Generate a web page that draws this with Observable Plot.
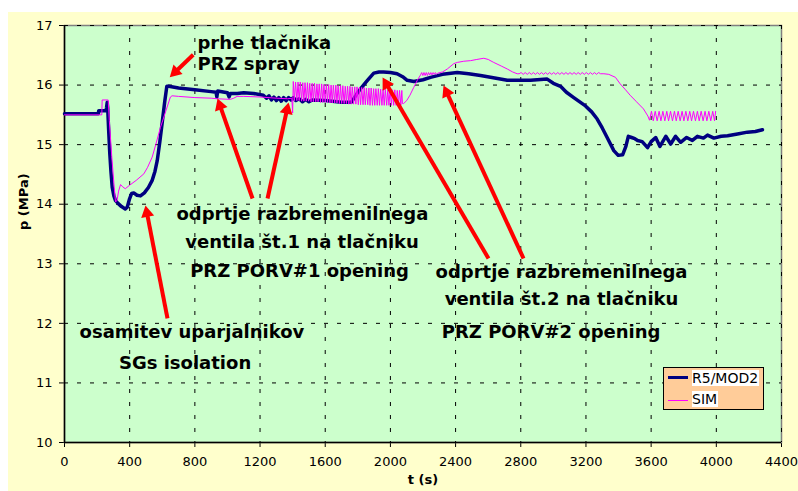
<!DOCTYPE html>
<html>
<head>
<meta charset="utf-8">
<script src="https://cdn.jsdelivr.net/npm/d3@7"></script>
<script src="https://cdn.jsdelivr.net/npm/@observablehq/plot@0.6"></script>
<style>
  body { margin: 0; background: #ffffff; }
  #wrap { position: relative; width: 798px; height: 491px; overflow: hidden; }
  #bg { position: absolute; left: 8px; top: 12px; right: 0; bottom: 0; background: #ffffcc; }
  #chart { position: absolute; left: 0; top: 0; }
  #legend { position: absolute; left: 663px; top: 367px; width: 99px; height: 41px;
            background: #ffcc99; border: 1px solid #000; font-family: "DejaVu Sans"; font-size: 14px; }
  .key { position: absolute; left: 4px; width: 20px; }
  .lab { position: absolute; left: 28px; background: #fff; line-height: 16px; padding-right: 1px; color: #000; }
</style>
</head>
<body>
<div id="wrap"><div id="bg"></div><div id="chart"></div><div id="legend"></div></div>
<script>
// ---- axes ----
const xTicks = [0, 400, 800, 1200, 1600, 2000, 2400, 2800, 3200, 3600, 4000, 4400];
const yTicks = [10, 11, 12, 13, 14, 15, 16, 17];
const xTitle = "t (s)";
const yTitle = "p (MPa)";

// ---- series ----
const seriesNames = ["R5/MOD2", "SIM"];
const seriesColors = ["#000080", "#ff00ff"];

const r5T = [0,208,210,255,258,262,265,270,278,285,293,303,313,330,350,373,385,398,412,425,445,466,490,515,538,555,569,585,600,615,628,640,700,800,900,930,935,940,1000,1010,1018,1060,1100,1160,1220,1240,1255,1270,1285,1300,1315,1330,1345,1360,1375,1390,1405,1420,1440,1460,1480,1500,1520,1600,1700,1760,1796,1820,1850,1875,1898,1930,1958,2000,2041,2075,2103,2144,2200,2246,2320,2410,2480,2553,2640,2717,2860,2962,3000,3044,3080,3125,3197,3235,3269,3300,3330,3371,3398,3425,3445,3460,3480,3500,3517,3545,3578,3600,3628,3654,3690,3720,3750,3781,3818,3853,3884,3921,3946,3985,4030,4069,4130,4191,4240,4283];
const r5P = [15.52,15.52,15.57,15.57,15.62,15.71,15.62,15.30,14.85,14.55,14.28,14.14,14.06,14.01,13.96,13.92,13.95,14.08,14.18,14.19,14.15,14.14,14.19,14.28,14.40,14.55,14.73,15.05,15.38,15.72,15.98,15.98,15.95,15.92,15.89,15.88,15.80,15.90,15.87,15.80,15.86,15.86,15.87,15.86,15.83,15.78,15.82,15.75,15.80,15.74,15.79,15.73,15.79,15.74,15.79,15.75,15.79,15.74,15.77,15.72,15.76,15.72,15.75,15.74,15.71,15.71,15.86,15.95,16.05,16.13,16.20,16.22,16.22,16.21,16.19,16.14,16.08,16.06,16.09,16.13,16.18,16.21,16.19,16.16,16.12,16.08,16.08,16.10,16.03,15.98,15.88,15.79,15.65,15.55,15.43,15.28,15.12,14.90,14.82,14.83,14.97,15.14,15.12,15.10,15.07,15.05,14.95,15.05,15.12,14.97,15.14,15.01,15.14,15.04,15.12,15.07,15.14,15.11,15.16,15.11,15.14,15.15,15.18,15.21,15.22,15.25];

// SIM, in consecutive pieces
const simStartT = [0,229,231,268,275,290,303,313,322,332,344,358,373,400,440,487,510,538,560,589,620,650,660,700,800,900,937,1018,1039,1059,1100,1200,1300,1370,1395,1400];
const simStartP = [15.50,15.50,15.75,15.75,15.40,14.80,14.35,14.04,14.06,14.22,14.33,14.29,14.26,14.32,14.40,14.51,14.62,14.79,15.00,15.29,15.55,15.80,15.82,15.81,15.79,15.78,15.77,15.76,15.78,15.81,15.81,15.80,15.78,15.77,15.78,15.53];
const simPorv1T = [1404,1411,1418,1426,1433,1440,1447,1455,1462,1469,1476,1484,1491,1498,1505,1513,1520,1527,1534,1542,1549,1556,1563,1571,1578,1585,1592,1600,1607,1614,1621,1629,1636,1643,1650,1658,1665,1672,1679,1687,1694,1701,1708,1716,1723,1730,1737,1745,1752,1759,1766,1774,1781,1788,1795,1803,1810,1817,1824,1832,1839,1846,1853,1861,1868,1875,1882,1890,1897,1904,1911,1919,1926,1933,1940,1948,1955,1962,1969,1977,1984,1991,1998,2006,2013,2020,2027,2035,2042,2049,2056,2064,2070];
const simPorv1P = [16.06,15.74,16.05,15.74,16.05,15.74,16.05,15.73,16.04,15.73,16.04,15.73,16.04,15.73,16.03,15.72,16.03,15.72,16.03,15.72,16.02,15.72,16.02,15.71,16.02,15.71,16.01,15.71,16.01,15.71,16.01,15.70,16.00,15.70,16.00,15.70,16.00,15.70,15.99,15.69,15.99,15.69,15.99,15.69,15.98,15.69,15.98,15.68,15.98,15.68,15.97,15.68,15.97,15.68,15.97,15.67,15.96,15.67,15.96,15.67,15.96,15.67,15.95,15.67,15.95,15.66,15.95,15.66,15.94,15.66,15.94,15.66,15.94,15.66,15.93,15.66,15.93,15.66,15.93,15.66,15.92,15.66,15.92,15.66,15.92,15.66,15.92,15.66,15.91,15.66,15.91,15.66,15.91];
const simRiseT = [2074,2081,2100,2120,2143,2165];
const simRiseP = [15.69,15.69,15.74,15.83,15.96,16.08];
const simPorv2T = [2185,2192,2199,2206,2213,2220,2227,2234,2241,2248,2255,2262,2269,2276,2283,2290];
const simPorv2P = [16.17,16.21,16.16,16.21,16.16,16.21,16.16,16.21,16.17,16.21,16.17,16.21,16.18,16.21,16.18,16.20];
const simHumpT = [2320,2349,2389,2410,2450,2492,2530,2573,2600,2634,2680,2717,2750,2778];
const simHumpP = [16.22,16.27,16.36,16.38,16.40,16.41,16.43,16.45,16.43,16.38,16.32,16.27,16.22,16.19];
const simFlatT = [2790,2802,2815,2827,2840,2852,2865,2877,2890,2902,2915,2927,2940,2952,2965,2977,2990,3002,3015,3027,3040,3052,3065,3077,3090,3102,3115,3127,3140,3152,3165,3177,3190,3202,3215,3227,3240,3252,3265,3277,3290];
const simFlatP = [16.19,16.21,16.18,16.21,16.18,16.21,16.18,16.21,16.18,16.21,16.18,16.21,16.18,16.21,16.18,16.21,16.18,16.21,16.18,16.21,16.18,16.21,16.18,16.21,16.18,16.21,16.18,16.21,16.18,16.21,16.18,16.21,16.18,16.21,16.18,16.21,16.18,16.21,16.18,16.21,16.19];
const simDropT = [3310,3340,3381,3410,3440,3471,3510,3553,3580];
const simDropP = [16.19,16.18,16.13,16.02,15.93,15.83,15.72,15.60,15.48];
const simEndT = [3590,3602,3613,3625,3637,3649,3660,3672,3684,3696,3707,3719,3731,3743,3754,3766,3778,3790,3801,3813,3825,3837,3848,3860,3872,3884,3895,3907,3919,3931,3942,3954,3966,3978,3989,3996];
const simEndP = [15.41,15.56,15.40,15.56,15.40,15.56,15.40,15.56,15.40,15.56,15.40,15.56,15.40,15.56,15.40,15.56,15.40,15.56,15.40,15.56,15.40,15.56,15.40,15.56,15.40,15.56,15.40,15.56,15.40,15.56,15.40,15.56,15.40,15.56,15.40,15.56];

// ---- annotations (data coordinates) ----
const noteLines = ["prhe tlačnika", "PRZ spray",
  "odprtje razbremenilnega", "ventila št.1 na tlačniku", "PRZ PORV#1 opening",
  "osamitev uparjalnikov", "SGs isolation",
  "odprtje razbremenilnega", "ventila št.2 na tlačniku", "PRZ PORV#2 opening"];
const noteT = [816, 816, 1460, 1458, 1442, 782, 740, 3050, 3050, 2986];
const noteP = [16.609, 16.245, 13.727, 13.257, 12.770, 11.746, 11.242, 12.753, 12.300, 11.746];
const noteAlign = ["start", "start", "middle", "middle", "middle", "middle", "middle", "middle", "middle", "middle"];

const arrowFromT = [790, 632, 1154, 1246, 2602, 2817];
const arrowFromP = [16.508, 12.082, 14.096, 14.096, 13.089, 13.089];
const arrowToT = [646, 497, 939, 1375, 1952, 2326];
const arrowToP = [16.132, 13.978, 15.775, 15.707, 16.127, 15.993];

// ---- build ----
const r5 = r5T.map((t, i) => ({t, p: r5P[i]}));
const simT = [].concat(simStartT, simPorv1T, simRiseT, simPorv2T, simHumpT, simFlatT, simDropT, simEndT);
const simP = [].concat(simStartP, simPorv1P, simRiseP, simPorv2P, simHumpP, simFlatP, simDropP, simEndP);
const sim = simT.map((t, i) => ({t, p: simP[i]}));
const notes = noteLines.map((s, i) => ({s, t: noteT[i], p: noteP[i], a: noteAlign[i]}));

const layout = {
  width: 798, height: 491,
  marginLeft: 64, marginRight: 17, marginTop: 25, marginBottom: 49,
  style: {background: "transparent", fontFamily: "DejaVu Sans", fontSize: "13px", color: "#000", overflow: "visible"},
  x: {domain: [0, 4400], ticks: xTicks, tickFormat: d => String(d), tickSize: 5, tickPadding: 9, label: null},
  y: {domain: [10, 17], ticks: yTicks, tickFormat: d => String(d), tickSize: 5, tickPadding: 7, label: null}
};

// first pass: get the plot's own scales to orient the arrow heads
const probe = Plot.plot({...layout, marks: [Plot.frame()]});
const sx = probe.scale("x"), sy = probe.scale("y");
const headHalf = 3.8; // triangle "y" unit in px (height = 3*headHalf)
const arrows = arrowFromT.map((t, i) => {
  const x1 = sx.apply(t), y1 = sy.apply(arrowFromP[i]);
  const x2 = sx.apply(arrowToT[i]), y2 = sy.apply(arrowToP[i]);
  const len = Math.hypot(x2 - x1, y2 - y1);
  const ux = (x2 - x1) / len, uy = (y2 - y1) / len;
  const cx = x2 - ux * 2 * headHalf, cy = y2 - uy * 2 * headHalf;
  return {
    t1: t, p1: arrowFromP[i],
    tc: sx.invert(cx), pc: sy.invert(cy),
    angle: Math.atan2(ux, -uy) * 180 / Math.PI
  };
});
const headR = Math.sqrt(headHalf * headHalf * 3 * Math.sqrt(3) / Math.PI);

const noteStyle = {x: "t", y: "p", text: "s", lineAnchor: "bottom", fontSize: 18, fontWeight: "bold", fontFamily: "DejaVu Sans", fill: "#000"};

const chart = Plot.plot({
  ...layout,
  marks: [
    Plot.frame({fill: "#ccffcc", stroke: "#808080", strokeWidth: 1.5}),
    Plot.ruleX(xTicks.slice(1), {stroke: "#000", strokeWidth: 1, strokeDasharray: "4,9"}),
    Plot.ruleY(yTicks.slice(1), {stroke: "#000", strokeWidth: 1, strokeDasharray: "4,9"}),
    Plot.ruleX([0], {stroke: "#000", strokeWidth: 1.5}),
    Plot.ruleY([10], {stroke: "#000", strokeWidth: 1.5}),
    Plot.line(r5, {x: "t", y: "p", stroke: seriesColors[0], strokeWidth: 3.5}),
    Plot.line(sim, {x: "t", y: "p", stroke: seriesColors[1], strokeWidth: 1}),
    Plot.link(arrows, {x1: "t1", y1: "p1", x2: "tc", y2: "pc", stroke: "#ff0000", strokeWidth: 4}),
    Plot.dot(arrows, {x: "tc", y: "pc", symbol: "triangle", r: headR, rotate: "angle", fill: "#ff0000", stroke: "none"}),
    Plot.text(notes.filter(d => d.a === "start"), {...noteStyle, textAnchor: "start"}),
    Plot.text(notes.filter(d => d.a === "middle"), {...noteStyle, textAnchor: "middle"}),
    Plot.text([yTitle], {frameAnchor: "left", dx: -41, dy: -4, rotate: -90, fontWeight: "bold", fontSize: 13, fill: "#000"}),
    Plot.text([xTitle], {frameAnchor: "bottom", dy: 41, fontWeight: "bold", fontSize: 13, fill: "#000"})
  ]
});
document.getElementById("chart").appendChild(chart);

// ---- legend ----
const legend = document.getElementById("legend");
seriesNames.forEach((name, i) => {
  const key = document.createElement("div");
  key.className = "key";
  key.style.top = (i === 0 ? 7.5 : 32) + "px";
  key.style.height = (i === 0 ? 3 : 1) + "px";
  key.style.background = seriesColors[i];
  legend.appendChild(key);
  const lab = document.createElement("div");
  lab.className = "lab";
  lab.style.top = (i === 0 ? 2 : 23) + "px";
  lab.textContent = name;
  legend.appendChild(lab);
});
</script>
</body>
</html>
